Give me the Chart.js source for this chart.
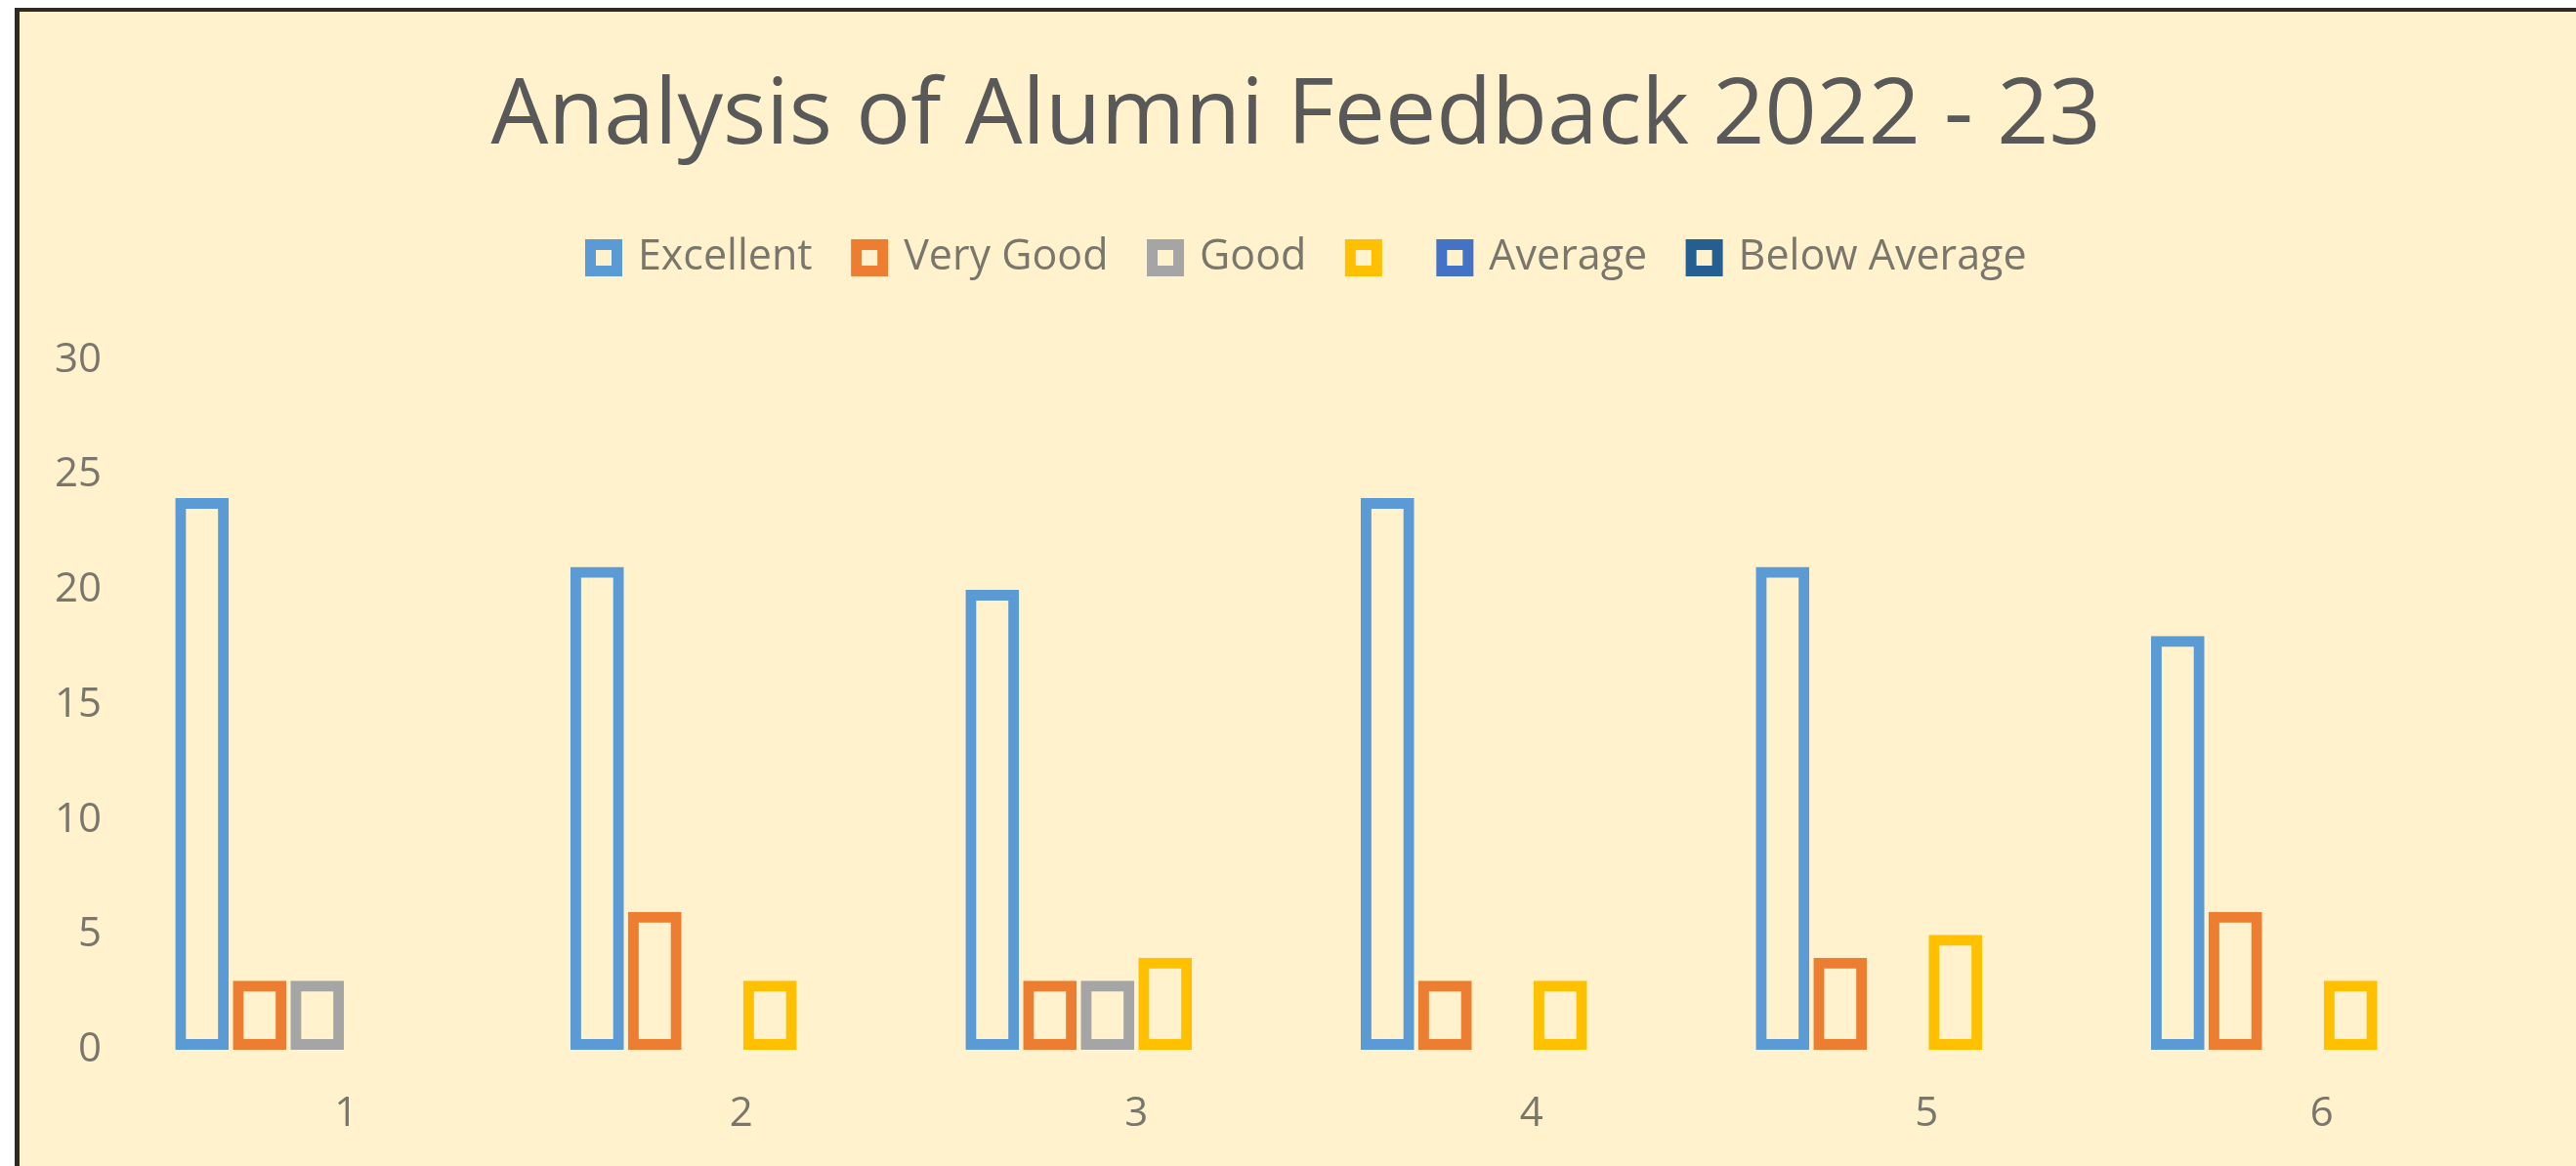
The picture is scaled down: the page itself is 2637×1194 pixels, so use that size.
<!DOCTYPE html>
<html>
<head>
<meta charset="utf-8">
<title>Analysis of Alumni Feedback 2022 - 23</title>
<script src="https://cdn.jsdelivr.net/npm/chart.js@4.4.1/dist/chart.umd.min.js"></script>
<style>
  html, body { margin: 0; padding: 0; background: #ffffff; overflow: hidden; }
  #frame {
    position: absolute; left: 15px; top: 8px;
    width: 2617px; height: 1182px;
    border-top: 4px solid #2e2a24;
    border-left: 5px solid #2e2a24;
    background: #fff2cc;
  }
  #chart { display: block; width: 2617px; height: 1182px; }
</style>
</head>
<body>
<div id="frame"><canvas id="chart" width="2617" height="1182"></canvas></div>
<script>
// data
const categories = ['1', '2', '3', '4', '5', '6'];
const excellent = [24, 21, 20, 24, 21, 18];
const veryGood = [3, 6, 3, 3, 4, 6];
const good = [3, 0, 3, 0, 0, 0];
const unnamed = [0, 3, 4, 3, 5, 3];   // yellow series, no name in the legend
const average = [0, 0, 0, 0, 0, 0];
const belowAverage = [0, 0, 0, 0, 0, 0];
const yTicks = [0, 5, 10, 15, 20, 25, 30];

const FONT = '"Open Sans", Lato, sans-serif';
const TEXT = '#7b766c';

function series(label, data, color) {
    return {
        label: label,
        data: data,
        backgroundColor: 'transparent',
        borderColor: color,
        borderWidth: 11,
        borderSkipped: false,
        categoryPercentage: 0.875,
        barPercentage: 0.93
    };
}

// legend: extra room below it; title and legend nudged right like the original
const headerTweak = {
    id: 'headerTweak',
    beforeInit(chart) {
        const fitLegend = chart.legend.fit;
        chart.legend.fit = function () {
            fitLegend.bind(chart.legend)();
            this.height += 73;
        };
    },
    afterLayout(chart) {
        chart.legend.left += 40;
        chart.legend.right += 40;
        chart.titleBlock.left += 27;
        chart.titleBlock.right += 27;
    }
};

new Chart(document.getElementById('chart'), {
    type: 'bar',
    data: {
        labels: categories,
        datasets: [
            series('Excellent', excellent, '#5b9bd5'),
            series('Very Good', veryGood, '#ed7d31'),
            series('Good', good, '#a5a5a5'),
            series('', unnamed, '#ffc000'),
            series('Average', average, '#4472c4'),
            series('Below Average', belowAverage, '#255e91')
        ]
    },
    options: {
        responsive: false,
        animation: false,
        layout: { padding: { left: 0, right: 58, top: 0, bottom: 0 } },
        plugins: {
            tooltip: { enabled: false },
            title: {
                display: true,
                text: 'Analysis of Alumni Feedback 2022 - 23',
                color: '#595959',
                font: { family: FONT, size: 93, weight: 'normal' },
                padding: { top: 53, bottom: 21 }
            },
            legend: {
                position: 'top',
                labels: {
                    color: TEXT,
                    font: { family: FONT, size: 43 },
                    boxWidth: 27,
                    boxHeight: 27,
                    padding: 45
                }
            }
        },
        scales: {
            x: {
                grid: { display: false, drawTicks: false },
                border: { display: false },
                afterFit: (scale) => { scale.height = 119; },
                ticks: { color: TEXT, font: { family: FONT, size: 42 }, padding: 41 }
            },
            y: {
                min: 0,
                max: 30,
                grid: { display: false, drawTicks: false },
                border: { display: false },
                afterBuildTicks: (scale) => { scale.ticks = yTicks.map(v => ({ value: v })); },
                afterFit: (scale) => { scale.width = 132; },
                ticks: { color: TEXT, font: { family: FONT, size: 42 }, padding: 48 }
            }
        }
    },
    plugins: [headerTweak]
});
</script>
</body>
</html>
